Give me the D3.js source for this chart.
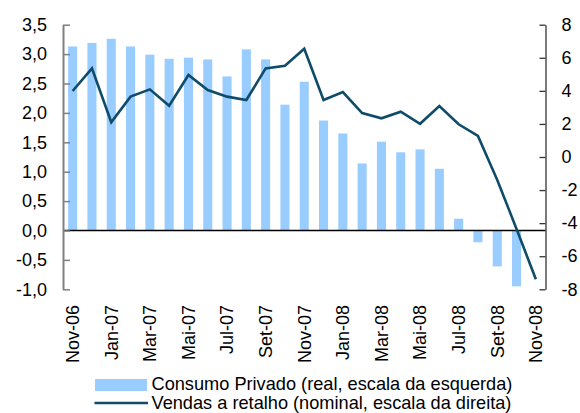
<!DOCTYPE html>
<html>
<head>
<meta charset="utf-8">
<script src="https://cdn.jsdelivr.net/npm/d3@7"></script>
<style>
  html, body { margin: 0; padding: 0; background: #fff; }
  svg { display: block; font-family: Arial, "Liberation Sans", sans-serif; }
</style>
</head>
<body>
<svg id="chart" width="580" height="413"></svg>
<script>
const months = ["Nov-06","Dez-06","Jan-07","Fev-07","Mar-07","Abr-07","Mai-07","Jun-07","Jul-07","Ago-07","Set-07","Out-07",
  "Nov-07","Dez-07","Jan-08","Fev-08","Mar-08","Abr-08","Mai-08","Jun-08","Jul-08","Ago-08","Set-08","Out-08","Nov-08"];
const consumo = [3.13,3.19,3.26,3.13,2.99,2.92,2.94,2.91,2.62,3.08,2.91,2.14,
  2.53,1.87,1.65,1.14,1.51,1.33,1.38,1.05,0.20,-0.20,-0.61,-0.95,null];
const vendas = [3.99,5.36,2.10,3.65,4.09,3.10,4.96,4.05,3.65,3.45,5.36,5.52,
  6.55,3.45,3.93,2.66,2.34,2.74,2.01,3.08,1.98,1.27,-1.39,-4.35,-7.39];
const leftTicks = [-1.0,-0.5,0.0,0.5,1.0,1.5,2.0,2.5,3.0,3.5];
const rightTicks = [-8,-6,-4,-2,0,2,4,6,8];
const xLabels = ["Nov-06","Jan-07","Mar-07","Mai-07","Jul-07","Set-07","Nov-07","Jan-08","Mar-08","Mai-08","Jul-08","Set-08","Nov-08"];
const legendLabels = ["Consumo Privado (real, escala da esquerda)","Vendas a retalho (nominal, escala da direita)"];

const svg = d3.select("#chart");
const L = 63, R = 545.5, T = 24.7, B = 289.3;
const fs = 18;

const x = d3.scaleBand().domain(months).range([L, R]).paddingInner(0.53).paddingOuter(0.265);
const xc = d => x(d) + x.bandwidth() / 2;
const yL = d3.scaleLinear().domain([-1, 3.5]).range([B, T]);
const yR = d3.scaleLinear().domain([-8, 8]).range([B, T]);

// bars
svg.append("g").selectAll("rect")
  .data(months.map((m, i) => ({m, v: consumo[i]})).filter(d => d.v != null))
  .join("rect")
  .attr("x", d => x(d.m))
  .attr("width", x.bandwidth())
  .attr("y", d => yL(Math.max(0, d.v)))
  .attr("height", d => Math.abs(yL(d.v) - yL(0)))
  .attr("fill", "#99CCFF");

// zero line
svg.append("line")
  .attr("x1", L).attr("x2", R).attr("y1", yL(0)).attr("y2", yL(0))
  .attr("stroke", "#000").attr("stroke-width", 1.5);

// line
const line = d3.line().x((d, i) => xc(months[i])).y(d => yR(d));
svg.append("path").datum(vendas)
  .attr("d", line).attr("fill", "none")
  .attr("stroke", "#0F4C6A").attr("stroke-width", 2.6).attr("stroke-linejoin", "miter");

// left axis
const fmt = d => d3.format(".1f")(d).replace(".", ",").replace("−", "-");
const gL = svg.append("g").attr("transform", `translate(${L},0)`)
  .call(d3.axisLeft(yL).tickValues(leftTicks).tickSizeInner(-7).tickSizeOuter(0).tickPadding(16).tickFormat(fmt));
gL.select(".domain").attr("stroke", "#808080").attr("stroke-width", 2);
gL.selectAll(".tick line").attr("stroke", "#808080").attr("stroke-width", 1.5);
gL.selectAll("text").attr("font-size", fs).attr("fill", "#000").attr("font-family", "Arial, 'Liberation Sans', sans-serif");

// right axis
const gR = svg.append("g").attr("transform", `translate(${R},0)`)
  .call(d3.axisRight(yR).tickValues(rightTicks).tickSizeInner(-6).tickSizeOuter(0).tickPadding(16).tickFormat(d => String(d).replace("−", "-")));
gR.select(".domain").attr("stroke", "#333").attr("stroke-width", 1.3);
gR.selectAll(".tick line").attr("stroke", "#333").attr("stroke-width", 1.3);
gR.selectAll("text").attr("font-size", fs).attr("fill", "#000").attr("font-family", "Arial, 'Liberation Sans', sans-serif");

// x labels
svg.append("g").selectAll("text").data(xLabels).join("text")
  .attr("transform", d => `translate(${xc(d)},305) rotate(-90)`)
  .attr("text-anchor", "end").attr("dy", "0.35em")
  .attr("font-size", fs).attr("fill", "#000")
  .text(d => d);

// legend
const lg = svg.append("g");
lg.append("rect").attr("x", 95).attr("y", 379).attr("width", 52).attr("height", 12).attr("fill", "#99CCFF");
lg.append("line").attr("x1", 94.5).attr("x2", 148).attr("y1", 403).attr("y2", 403)
  .attr("stroke", "#0F4C6A").attr("stroke-width", 2.6);
lg.selectAll("text").data(legendLabels).join("text")
  .attr("x", 151.5).attr("y", (d, i) => 389.5 + i * 19.5)
  .attr("font-size", 18.2).attr("fill", "#000").text(d => d);
</script>
</body>
</html>
